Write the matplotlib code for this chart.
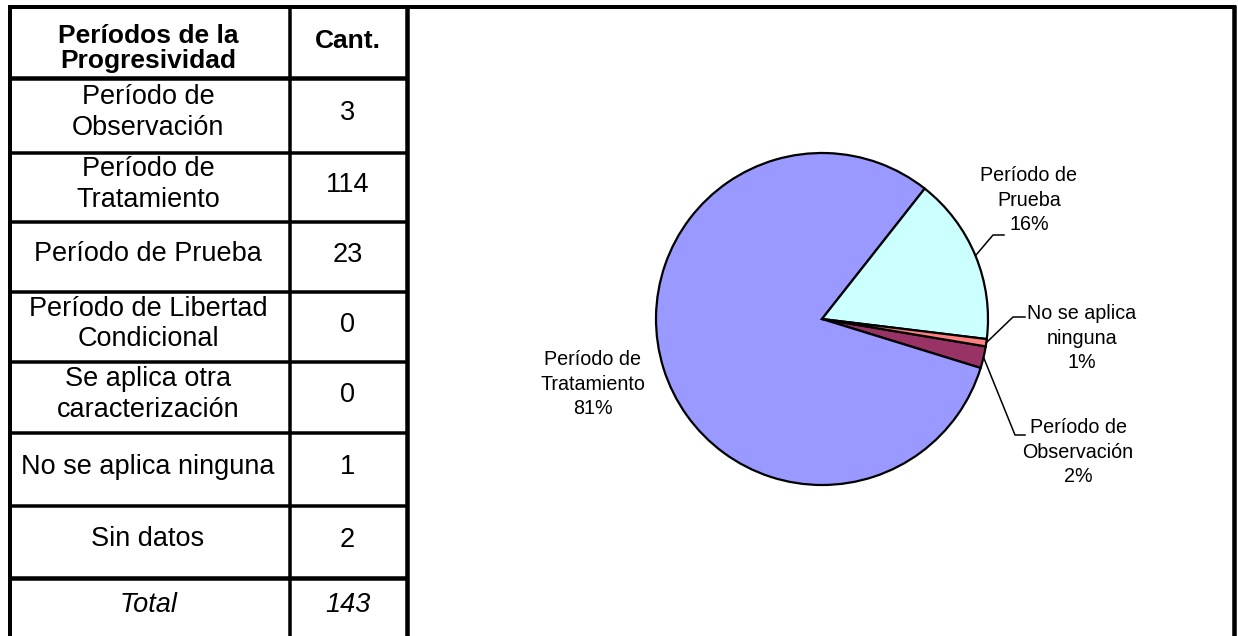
import matplotlib
matplotlib.use("Agg")
import matplotlib.pyplot as plt
from matplotlib import font_manager
import numpy as np

# ---- data ----
row_labels = [
    "Período de\nObservación",
    "Período de\nTratamiento",
    "Período de Prueba",
    "Período de Libertad\nCondicional",
    "Se aplica otra\ncaracterización",
    "No se aplica ninguna",
    "Sin datos",
]
row_counts = [3, 114, 23, 0, 0, 1, 2]
total_label = "Total"
total_count = 143
header_labels = ["Períodos de la\nProgresividad", "Cant."]

pie_labels = ["Período de\nObservación", "Período de\nTratamiento",
              "Período de\nPrueba", "No se aplica\nninguna"]
pie_values = [3, 114, 23, 1]
pie_colors = ["#993366", "#9999FF", "#CCFFFF", "#FF8080"]

# ---- fonts ----
available = {f.name for f in font_manager.fontManager.ttflist}
table_font = "Liberation Sans" if "Liberation Sans" in available else "DejaVu Sans"
if "Liberation Sans Narrow" in available:
    pie_font, pie_size = "Liberation Sans Narrow", 17.0
else:
    pie_font, pie_size = table_font, 14.2

W, H = 1238, 636
fig = plt.figure(figsize=(W / 100, H / 100), dpi=100)
fig.patch.set_facecolor("white")

# overlay in pixel coordinates for the table and frames
ov = fig.add_axes([0, 0, 1, 1])
ov.set_xlim(0, W)
ov.set_ylim(H, 0)
ov.axis("off")

px = 0.72  # points per pixel at 100 dpi
x_left, x_mid, x_right = 10, 290, 407
y_top = 7
row_edges = [y_top, 78, 153, 222, 292, 362, 433, 506, 578, H + 2]

# outer frames
ov.plot([x_left, x_left], [y_top - 2, H + 2], color="black", lw=4 * px, solid_capstyle="butt")
ov.plot([x_mid, x_mid], [y_top, H + 2], color="black", lw=3.5 * px, solid_capstyle="butt")
ov.plot([x_right, x_right], [y_top, H + 2], color="black", lw=4.5 * px, solid_capstyle="butt")
ov.plot([1234, 1234], [y_top - 2, H + 2], color="black", lw=4.5 * px, solid_capstyle="butt")
ov.plot([x_left - 2, 1236], [y_top, y_top], color="black", lw=4 * px, solid_capstyle="butt")
for i, y in enumerate(row_edges[1:-1], start=1):
    thick = 4.5 if i in (1, 8) else 3.5
    ov.plot([x_left, x_right], [y, y], color="black", lw=thick * px, solid_capstyle="butt")

c1 = (x_left + x_mid) / 2 - 2
c2 = (x_mid + x_right) / 2 - 1
tsize = 19.5

def row_center(i):
    return (row_edges[i] + row_edges[i + 1]) / 2 - 3

ov.text(c1, row_center(0) + 9, header_labels[0], ha="center", va="center",
        fontsize=tsize - 0.5, fontweight="bold", family=table_font, linespacing=1.05)
ov.text(c2, row_center(0) + 2, header_labels[1], ha="center", va="center",
        fontsize=tsize - 0.5, fontweight="bold", family=table_font)
for i, (lab, cnt) in enumerate(zip(row_labels, row_counts), start=1):
    yc = row_center(i)
    ov.text(c1, yc, lab, ha="center", va="center", fontsize=tsize,
            family=table_font, linespacing=1.25)
    ov.text(c2, yc + 1, str(cnt), ha="center", va="center", fontsize=tsize,
            family=table_font)
yc = row_center(8)
ov.text(c1, yc, total_label, ha="center", va="center", fontsize=tsize,
        family=table_font, style="italic")
ov.text(c2, yc, str(total_count), ha="center", va="center", fontsize=tsize,
        family=table_font, style="italic")

# ---- pie ----
cx, cy, r = 822, 319, 166
pax = fig.add_axes([(cx - r) / W, (H - cy - r) / H, 2 * r / W, 2 * r / H])
wedges, _ = pax.pie(pie_values, colors=pie_colors, startangle=-9.5, counterclock=False,
                    radius=1.0, wedgeprops=dict(edgecolor="black", linewidth=1.6))
pax.set_xlim(-1.0, 1.0)
pax.set_ylim(-1.0, 1.0)
pax.axis("off")

total_pie = sum(pie_values)
pcts = [f"{round(100 * v / total_pie):.0f}%" for v in pie_values]

def edge_point(w):
    ang = np.deg2rad((w.theta1 + w.theta2) / 2)
    return cx + r * np.cos(ang), cy - r * np.sin(ang)

# label placements: (text center x, text center y, elbow x, elbow y, end x)
placements = {
    0: (1078, 452, 1015, 435, 1025),
    1: (593, 384, None, None, None),
    2: (1029, 200, 993, 235, 1004),
    3: (1082, 338, 1013, 317, 1025),
}
for i, w in enumerate(wedges):
    tx, ty, ex, ey, endx = placements[i]
    ov.text(tx, ty, f"{pie_labels[i]}\n{pcts[i]}", ha="center", va="center",
            fontsize=pie_size, family=pie_font, linespacing=1.38)
    if ex is not None:
        sx, sy = edge_point(w)
        ov.plot([sx, ex, endx], [sy, ey, ey], color="black", lw=1.1)

fig.savefig("out.png", dpi=100, facecolor="white")
